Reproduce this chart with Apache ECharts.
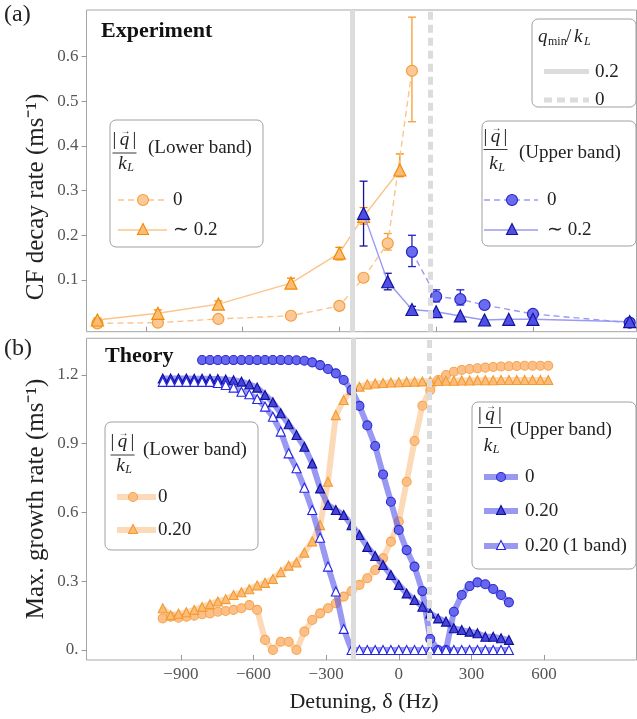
<!DOCTYPE html>
<html><head><meta charset="utf-8">
<script src="https://cdn.jsdelivr.net/npm/echarts@6/dist/echarts.min.js"></script>
<style>html,body{margin:0;padding:0;background:#fff}#c{width:637px;height:719px}</style>
</head><body><div id="c"></div>
<script>
// ---------- DATA ----------
// (a) Experiment: detuning (Hz, experiment convention) and CF decay rate (ms^-1)
const expLowerQ0X  = [-1000, -750, -500, -200, 0, 100, 200, 300];
const expLowerQ0   = [0.003, 0.0045, 0.0128, 0.020, 0.042, 0.105, 0.182, 0.568];
const expLowerQ0Lo = [null, null, null, null, null, null, 0.167, 0.454];
const expLowerQ0Hi = [null, null, null, null, null, null, 0.204, 0.688];

const expLowerQ02X  = [-1000, -750, -500, -200, 0, 100, 250];
const expLowerQ02   = [0.0105, 0.0255, 0.046, 0.093, 0.160, 0.242, 0.346];
const expLowerQ02Lo = [0.006, 0.017, 0.039, 0.085, 0.145, 0.225, 0.331];
const expLowerQ02Hi = [0.015, 0.033, 0.053, 0.104, 0.173, 0.262, 0.382];

const expUpperQ0X  = [300, 400, 500, 600, 800, 1200];
const expUpperQ0   = [0.163, 0.063, 0.057, 0.044, 0.024, 0.0045];
const expUpperQ0Lo = [0.130, 0.051, 0.044, null, null, null];
const expUpperQ0Hi = [0.200, 0.078, 0.078, null, null, null];

const expUpperQ02X  = [100, 200, 300, 400, 500, 600, 700, 800, 1200];
const expUpperQ02   = [0.249, 0.096, 0.034, 0.029, 0.0195, 0.0105, 0.012, 0.012, 0.0067];
const expUpperQ02Lo = [0.176, 0.078, 0.028, null, null, null, null, null, null];
const expUpperQ02Hi = [0.321, 0.115, 0.041, null, null, null, null, null, null];

const qminTop = [52, 374];      // q_min/k_L = 0.2, 0 (panel a convention)
const qminBottom = [-189, 127]; // q_min/k_L = 0.2, 0 (panel b convention)

// (b) Theory: detuning grid (Hz) and max growth rate (ms^-1)
const theoryX = [-975, -942.5, -910, -877.5, -845, -812.5, -780, -747.5, -715, -682.5,
  -650, -617.5, -585, -552.5, -520, -487.5, -455, -422.5, -390, -357.5,
  -325, -292.5, -260, -227.5, -195, -162.5, -130, -97.5, -65, -32.5,
  0, 32.5, 65, 97.5, 130, 162.5, 195, 227.5, 260, 292.5,
  325, 357.5, 390, 422.5, 455, 487.5, 520, 552.5, 585, 617.5];
const lowerQ0 = [0.138,0.145,0.141,0.145,0.150,0.156,0.160,0.167,0.170,0.175,
  0.182,0.196,0.175,0.044,0.0,0.036,0.036,0.0,0.080,0.131,
  0.160,0.182,0.204,0.233,0.257,0.284,0.313,0.349,0.400,0.473,
  0.560,0.734,0.912,1.066,1.134,1.178,1.200,1.214,1.222,1.226,
  1.229,1.232,1.235,1.237,1.238,1.239,1.240,1.240,1.240,1.240];
const lowerQ02 = [0.182,0.152,0.158,0.165,0.175,0.188,0.200,0.212,0.222,0.240,
  0.252,0.265,0.282,0.293,0.310,0.340,0.368,0.382,0.425,0.474,
  0.545,0.734,1.025,1.091,1.134,1.149,1.159,1.163,1.165,1.167,
  1.168,1.170,1.171,1.172,1.173,1.174,1.175,1.175,1.176,1.176,
  1.177,1.177,1.177,1.178,1.178,1.178,1.178,1.178,1.178,1.178];
// upper band q=0 starts at theoryX[5]
const upperQ0 = [1.265,1.265,1.265,1.265,1.265,1.265,1.265,1.265,1.265,1.265,
  1.265,1.265,1.264,1.262,1.255,1.243,1.226,1.207,1.178,1.134,
  1.065,0.980,0.890,0.766,0.647,0.524,0.436,0.364,0.257,0.048,
  0.0,0.0,0.167,0.240,0.279,0.295,0.287,0.266,0.240,0.208];
const upperQ02 = [1.185,1.185,1.185,1.185,1.184,1.184,1.183,1.182,1.180,1.177,
  1.171,1.159,1.145,1.113,1.081,1.033,0.985,0.938,0.887,0.814,
  0.705,0.633,0.611,0.589,0.545,0.502,0.450,0.410,0.371,0.327,
  0.284,0.247,0.218,0.189,0.160,0.138,0.124,0.095,0.087,0.080,
  0.073,0.058,0.058,0.051,0.044];
const upperQ02one = [1.170,1.170,1.170,1.170,1.170,1.170,1.170,1.165,1.156,1.145,
  1.127,1.116,1.095,1.062,1.018,0.953,0.858,0.793,0.708,0.611,
  0.490,0.364,0.255,0.092,0,0,0,0,0,0,
  0,0,0,0,0,0,0,0,0,0,
  0,0,0,0,0];

const xTicksBottom = [-900, -600, -300, 0, 300, 600];
const xTicksTop = [-800, -400, 0, 400, 800];
const yTicksTop = [0.1, 0.2, 0.3, 0.4, 0.5, 0.6];
const yTicksBottom = [0, 0.3, 0.6, 0.9, 1.2];

// ---------- BUILD ----------
const F = 'Liberation Serif';
const zip = (xs, ys) => xs.map((x, i) => [x, ys[i]]);

const C = {
  oLine: '#fcc48c', oFill: '#fcc898', oEdge: '#f59d35', otFill: '#fbbd76', otEdge: '#f28a05',
  bLine: '#9a9af5', bFill: '#6b6bef', bEdge: '#2424c8', btFill: '#4f4fe6', btEdge: '#12129c',
  thO: 'rgba(250,172,95,0.45)', thB: 'rgba(85,85,235,0.6)'
};

function errSeries(xs, lo, hi, color) {
  const data = [];
  xs.forEach((x, i) => { if (lo[i] != null) data.push([x, lo[i], hi[i]]); });
  return {
    type: 'custom', xAxisIndex: 0, yAxisIndex: 0, z: 2, silent: true, data,
    renderItem: (params, api) => {
      const p1 = api.coord([api.value(0), api.value(1)]);
      const p2 = api.coord([api.value(0), api.value(2)]);
      const w = 4, st = { stroke: color, lineWidth: 1.3 };
      return { type: 'group', children: [
        { type: 'line', shape: { x1: p1[0], y1: p1[1], x2: p2[0], y2: p2[1] }, style: st },
        { type: 'line', shape: { x1: p1[0] - w, y1: p1[1], x2: p1[0] + w, y2: p1[1] }, style: st },
        { type: 'line', shape: { x1: p2[0] - w, y1: p2[1], x2: p2[0] + w, y2: p2[1] }, style: st }
      ]};
    }
  };
}

function expSeries(name, data, symbol, size, fill, edge, line, dashed, z) {
  return { name, type: 'line', xAxisIndex: 0, yAxisIndex: 0, data, symbol, symbolSize: size,
    showSymbol: true, z, lineStyle: { color: line, width: 1.4, type: dashed ? [6, 4] : 'solid' },
    itemStyle: { color: fill, borderColor: edge, borderWidth: 1.2 }, emphasis: { disabled: true } };
}
function thSeries(name, data, symbol, size, fill, edge, line, z) {
  return { name, type: 'line', xAxisIndex: 1, yAxisIndex: 1, data, symbol, symbolSize: size,
    showSymbol: true, z, lineStyle: { color: line, width: 6 },
    itemStyle: { color: fill, borderColor: edge, borderWidth: 1.1 }, emphasis: { disabled: true } };
}
function qminSeries(xi, vals) {
  return { type: 'line', xAxisIndex: xi, yAxisIndex: xi, data: [], z: 1,
    markLine: { silent: true, symbol: ['none', 'none'], label: { show: false }, animation: false,
      data: [
        { xAxis: vals[0], lineStyle: { color: '#dcdcdc', width: 5, type: 'solid' } },
        { xAxis: vals[1], lineStyle: { color: '#dcdcdc', width: 5, type: [8, 5] } }
      ] } };
}

const labelStyle = { fontFamily: F, fontSize: 17, color: '#555' };
const minusFmt = v => v < 0 ? '\u2212' + Math.abs(v) : String(v);

// graphic helpers
function txt(x, y, text, size, o, rot) {
  const el = { type: 'text', x, y, z: 100, style: Object.assign({ text, fontFamily: F, fontSize: size,
    fill: '#222', align: 'left', verticalAlign: 'middle' }, o || {}) };
  if (rot) el.rotation = rot;
  return el;
}
function box(x, y, w, h) {
  return { type: 'rect', z: 90, shape: { x, y, width: w, height: h, r: 6 },
    style: { fill: '#fff', stroke: '#a0a0a0', lineWidth: 1 } };
}
function seg(x1, y1, x2, y2, stroke, lw, dash) {
  return { type: 'line', z: 95, shape: { x1, y1, x2, y2 }, style: { stroke, lineWidth: lw, lineDash: dash || null } };
}
function circ(cx, cy, d, fill, stroke) {
  return { type: 'circle', z: 96, shape: { cx, cy, r: d / 2 }, style: { fill, stroke, lineWidth: 1.1 } };
}
function tri(cx, cy, s, fill, stroke) {
  return { type: 'polygon', z: 96, shape: { points: [[cx, cy - s / 2], [cx + s / 2, cy + s / 2], [cx - s / 2, cy + s / 2]] },
    style: { fill, stroke, lineWidth: 1.1 } };
}
function frac(cx, yN, yB, yD, half) {
  return [
    txt(cx - 10, yN, '|', 19, { align: 'center' }),
    txt(cx, yN, 'q', 19, { align: 'center', fontStyle: 'italic' }),
    txt(cx + 10, yN, '|', 19, { align: 'center' }),
    txt(cx + 1, yN - 9, '\u2192', 10, { align: 'center' }),
    seg(cx - half, yB, cx + half, yB, '#222', 0.9),
    txt(cx - 2, yD, 'k', 19, { align: 'center', fontStyle: 'italic' }),
    txt(cx + 6, yD + 4, 'L', 12, { align: 'center', fontStyle: 'italic' })
  ];
}

const graphic = [
  txt(4, 15, '(a)', 24),
  txt(4, 349, '(b)', 24),
  txt(101, 31, 'Experiment', 22, { fontWeight: 'bold', fill: '#111' }),
  txt(105, 356, 'Theory', 22, { fontWeight: 'bold', fill: '#111' }),
  txt(36, 197, 'CF decay rate (ms\u207B\u00B9)', 25, { align: 'center', fill: '#222' }, Math.PI / 2),
  txt(36, 499, 'Max. growth rate (ms\u207B\u00B9)', 25, { align: 'center', fill: '#222' }, Math.PI / 2),
  txt(364, 702, 'Detuning, \u03B4 (Hz)', 22, { align: 'center' }),

  // (a) lower band legend
  box(110, 120, 153, 127),
  ...frac(124.5, 140, 153, 164, 12),
  txt(148, 148, '(Lower band)', 19),
  seg(118, 200, 167, 200, C.oLine, 1.4, [6, 4]), circ(143, 200, 11, C.oFill, C.oEdge), txt(173, 200, '0', 19),
  seg(118, 230, 167, 230, C.oLine, 1.4), tri(143, 229, 11, C.otFill, C.otEdge), txt(173, 230, '\u223C 0.2', 19),

  // (a) q_min legend
  box(532, 19, 104, 88),
  txt(538, 37, 'q', 19, { fontStyle: 'italic' }),
  txt(548, 42, 'min', 12),
  txt(566, 37, '/', 19),
  txt(574, 37, 'k', 19, { fontStyle: 'italic' }),
  txt(584, 42, 'L', 12, { fontStyle: 'italic' }),
  seg(544, 71.5, 589, 71.5, '#dcdcdc', 5), txt(595, 72, '0.2', 19),
  seg(544, 100, 589, 100, '#dcdcdc', 5, [8, 5]), txt(595, 100, '0', 19),

  // (a) upper band legend
  box(482, 121, 154, 125),
  ...frac(495.5, 137, 149.5, 164, 12),
  txt(519, 153, '(Upper band)', 19),
  seg(484, 200, 538, 200, C.bLine, 1.4, [6, 4]), circ(512, 200, 11, C.bFill, C.bEdge), txt(547, 200, '0', 19),
  seg(484, 230, 538, 230, C.bLine, 1.4), tri(512, 229, 11, C.btFill, C.btEdge), txt(547, 230, '\u223C 0.2', 19),

  // (b) lower band legend
  box(105, 422, 153, 128),
  ...frac(122.5, 442, 455, 466, 12),
  txt(143, 450, '(Lower band)', 19),
  seg(117, 497, 156, 497, C.thO, 6), circ(133, 497, 9, '#fdbf88', '#f5a550'), txt(158, 497, '0', 19),
  seg(117, 530, 156, 530, C.thO, 6), tri(133, 529, 9, '#fcbc78', '#f39a30'), txt(158, 530, '0.20', 19),

  // (b) upper band legend
  box(472, 402, 164, 167),
  ...frac(490, 415, 427.5, 446, 12),
  txt(510, 430, '(Upper band)', 19),
  seg(484, 477, 518, 477, C.thB, 6), circ(501, 477, 9, '#6767ee', '#2a2ad0'), txt(525, 477, '0', 19),
  seg(484, 511, 518, 511, C.thB, 6), tri(501, 510, 9, '#4545dc', '#0e0e96'), txt(525, 511, '0.20', 19),
  seg(484, 546, 518, 546, C.thB, 6), tri(501, 545, 9, '#ffffff', '#2525e6'), txt(525, 546, '0.20 (1 band)', 19)
];

const noLine = { show: false, onZero: false };
const option = {
  animation: false,
  backgroundColor: '#fff',
  grid: [
    { left: 86.5, top: 10, width: 550, height: 321.7, show: true, borderColor: '#a6a6a6', borderWidth: 1 },
    { left: 86.5, top: 338.3, width: 550, height: 321.7, show: true, borderColor: '#a6a6a6', borderWidth: 1 }
  ],
  xAxis: [
    { type: 'value', gridIndex: 0, position: 'bottom', min: -1045, max: 1228, axisLine: noLine, splitLine: { show: false },
      axisTick: { show: true, inside: true, length: 5, lineStyle: { color: '#999' }, customValues: xTicksTop },
      axisLabel: { show: false, customValues: xTicksTop } },
    { type: 'value', gridIndex: 1, position: 'bottom', min: -1290, max: 982, axisLine: noLine, splitLine: { show: false },
      axisTick: { show: true, inside: true, length: 5, lineStyle: { color: '#999' }, customValues: xTicksBottom },
      axisLabel: Object.assign({ margin: 6, formatter: minusFmt, customValues: xTicksBottom }, labelStyle) }
  ],
  yAxis: [
    { type: 'value', gridIndex: 0, position: 'left', min: -0.0157, max: 0.704, axisLine: noLine, splitLine: { show: false },
      axisTick: { show: true, inside: false, length: 5, lineStyle: { color: '#999' }, customValues: yTicksTop },
      axisLabel: Object.assign({ margin: 8, formatter: v => v.toFixed(1), customValues: yTicksTop }, labelStyle) },
    { type: 'value', gridIndex: 1, position: 'left', min: -0.0436, max: 1.36, axisLine: noLine, splitLine: { show: false },
      axisTick: { show: true, inside: false, length: 5, lineStyle: { color: '#999' }, customValues: yTicksBottom },
      axisLabel: Object.assign({ margin: 8, formatter: v => v === 0 ? '0.' : v.toFixed(1), customValues: yTicksBottom }, labelStyle) }
  ],
  graphic,
  series: [
    qminSeries(0, qminTop),
    qminSeries(1, qminBottom),
    errSeries(expLowerQ0X, expLowerQ0Lo, expLowerQ0Hi, C.oEdge),
    errSeries(expLowerQ02X, expLowerQ02Lo, expLowerQ02Hi, C.otEdge),
    errSeries(expUpperQ0X, expUpperQ0Lo, expUpperQ0Hi, C.bEdge),
    errSeries(expUpperQ02X, expUpperQ02Lo, expUpperQ02Hi, C.btEdge),
    expSeries('Lower 0', zip(expLowerQ0X, expLowerQ0), 'circle', 11, C.oFill, C.oEdge, C.oLine, true, 3),
    expSeries('Lower ~0.2', zip(expLowerQ02X, expLowerQ02), 'triangle', 12, C.otFill, C.otEdge, C.oLine, false, 3),
    expSeries('Upper 0', zip(expUpperQ0X, expUpperQ0), 'circle', 11, C.bFill, C.bEdge, C.bLine, true, 4),
    expSeries('Upper ~0.2', zip(expUpperQ02X, expUpperQ02), 'triangle', 12, C.btFill, C.btEdge, C.bLine, false, 4),

    thSeries('Lower 0', zip(theoryX, lowerQ0), 'circle', 9, '#fdbf88', '#f5a550', C.thO, 3),
    thSeries('Lower 0.20', zip(theoryX, lowerQ02), 'triangle', 9, '#fcbc78', '#f39a30', C.thO, 3),
    thSeries('Upper 0', zip(theoryX.slice(5, 45), upperQ0), 'circle', 9, '#6767ee', '#2a2ad0', C.thB, 4),
    thSeries('Upper 0.20', zip(theoryX.slice(0, 45), upperQ02), 'triangle', 9, '#4545dc', '#0e0e96', C.thB, 4),
    thSeries('Upper 0.20 (1 band)', zip(theoryX.slice(0, 45), upperQ02one), 'triangle', 9, '#ffffff', '#2525e6', C.thB, 4)
  ]
};

const chart = echarts.init(document.getElementById('c'), null, { renderer: 'canvas' });
chart.setOption(option);
</script></body></html>
